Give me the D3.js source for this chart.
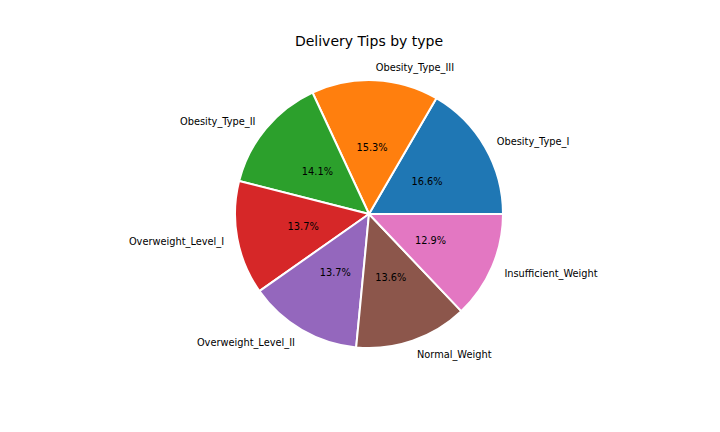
<!DOCTYPE html>
<html><head><meta charset="utf-8">
<script src="https://cdn.jsdelivr.net/npm/d3@7"></script>
<style>body{margin:0;background:#fff}svg{display:block}text{font-family:"DejaVu Sans",sans-serif}</style>
</head><body>
<svg id="c" width="720" height="432"></svg>
<script>
const categories = ["Obesity_Type_I","Obesity_Type_III","Obesity_Type_II","Overweight_Level_I","Overweight_Level_II","Normal_Weight","Insufficient_Weight"];
const values = [16.6,15.3,14.1,13.7,13.7,13.6,12.9];
const colors = ["#1f77b4","#ff7f0e","#2ca02c","#d62728","#9467bd","#8c564b","#e377c2"];
const title = "Delivery Tips by type";

const svg = d3.select("#c");
const cx = 369, cy = 214, R = 134;
const total = d3.sum(values);
// matplotlib: counterclockwise from east. d3 angles: clockwise from north.
const pie = d3.pie().sort(null).value(d=>d)
  .startAngle(Math.PI/2).endAngle(Math.PI/2 - 2*Math.PI);
const arcs = pie(values);
const arc = d3.arc().innerRadius(0).outerRadius(R);
const g = svg.append("g").attr("transform",`translate(${cx},${cy})`);
g.selectAll("path").data(arcs).enter().append("path")
  .attr("d",arc).attr("fill",(d,i)=>colors[i])
  .attr("stroke","#fff").attr("stroke-width",2).attr("stroke-linejoin","round");

arcs.forEach((a,i)=>{
  const mid = (a.startAngle+a.endAngle)/2;
  const x = Math.sin(mid), y = -Math.cos(mid);
  g.append("text").attr("x",1.1*R*x).attr("y",1.1*R*y).attr("dy","0.48em")
    .attr("text-anchor", x>0?"start":"end").attr("font-size",9.8).attr("fill","#000")
    .text(categories[i]);
  g.append("text").attr("x",0.5*R*x).attr("y",0.5*R*y).attr("dy","0.4em")
    .attr("text-anchor","middle").attr("font-size",9.8).attr("fill","#000")
    .text((values[i]/total*100).toFixed(1)+"%");
});
svg.append("text").attr("x",cx).attr("y",46).attr("text-anchor","middle")
  .attr("font-size",14).attr("fill","#000").text(title);
</script>
</body></html>
